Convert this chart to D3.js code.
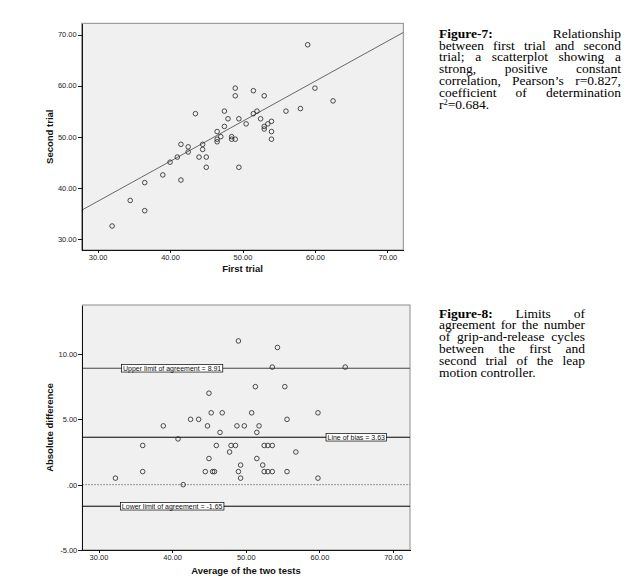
<!DOCTYPE html>
<html>
<head>
<meta charset="utf-8">
<script src="https://cdn.jsdelivr.net/npm/d3@7"></script>
<style>
  body { margin: 0; background: #fff; }
  svg { display: block; }
  .tick text { font-family: "Liberation Sans", Arial, sans-serif; font-size: 7.5px; fill: #222; }
  .axis path, .axis line { stroke: #000; stroke-width: 0.9; shape-rendering: crispEdges; }
  .title { font-family: "Liberation Sans", Arial, sans-serif; font-size: 9.5px; font-weight: bold; fill: #111; }
  .cap { font-family: "Liberation Serif", "Times New Roman", serif; font-size: 13.5px; fill: #000; }
</style>
</head>
<body>
<script>
// Figure 7 data (scatter): first vs second trial
var firstTrial  = [32, 34.5, 36.5, 36.5, 39, 40, 41, 41.5, 41.5, 42.5, 42.5, 43.5, 44, 44.5, 44.5, 45, 45,
                   46.5, 46.5, 46.5, 47, 47.5, 47.5, 48, 48.5, 48.5, 49, 49, 49, 49.5, 49.5, 50.5, 51.5, 51.5,
                   52, 52.5, 53, 53, 53, 53.5, 54, 54, 54, 56, 58, 59, 60, 62.5];
var secondTrial = [32.5, 37.5, 35.5, 41, 42.5, 45, 46, 41.5, 48.5, 48, 47, 54.5, 46, 48.5, 47.5, 46, 44,
                   51, 49.5, 49, 50, 55, 52, 53.5, 50, 49.5, 49.5, 59.5, 58, 53.5, 44, 52.5, 59, 54.5,
                   55, 53.5, 58, 52, 51.5, 52.5, 53, 51, 49.5, 55, 55.5, 68, 59.5, 57];
var fitIntercept = 13.8, fitSlope = 0.784;
var scatterTicks = [30, 40, 50, 60, 70];

// Figure 8 data (Bland-Altman)
var avgTests = [32.3, 36, 36, 38.8, 40.8, 41.5, 42.5, 43.6, 44.5, 44.8, 45, 45, 45.3, 45.5, 45.75, 46, 46.5,
                46.8, 47.8, 48, 48.6, 48.8, 49, 49, 49.3, 49.3, 49.8, 50.8, 51.3, 51.5, 51.5, 51.8, 52.3,
                52.5, 52.5, 53, 53.6, 53, 53.6, 53.6, 54.3, 55.3, 55.6, 55.6, 56.8, 59.8, 59.8, 63.5];
var absDiff  = [0.5, 3, 1, 4.5, 3.5, 0, 5, 5, 1, 4.5, 7, 2, 5.5, 1, 1, 3, 4,
                5.5, 2.5, 3, 3, 4.5, 1, 11, 1.5, 0.5, 4.5, 5.5, 7.5, 4, 2, 4.5, 1.5,
                3, 1, 3, 3, 1, 1, 9, 10.5, 7.5, 5, 1, 2.5, 5.5, 0.5, 9];
var refValues = [8.91, 3.63, -1.65];
var refNames  = ["Upper limit of agreement = 8.91", "Line of bias = 3.63", "Lower limit of agreement = -1.65"];
var refLabelX = [40, 65, 40];
var baXTicks = [30, 40, 50, 60, 70];
var baYTicks = [-5, 0, 5, 10];
var baYTickLabels = ["-5.00", ".00", "5.00", "10.00"];

var caption7 = ["Figure-7: Relationship", "between first trial and second", "trial; a scatterplot showing a",
                "strong, positive constant", "correlation, Pearson\u2019s r=0.827,", "coefficient of determination"];
var caption8 = ["Figure-8: Limits of", "agreement for the number", "of grip-and-release cycles",
                "between the first and", "second trial of the leap", "motion controller."];

var svg = d3.select("body").append("svg").attr("width", 633).attr("height", 588);

function frame(x0, x1, y0, y1) {
    svg.append("rect").attr("x", x0).attr("y", y0).attr("width", x1 - x0).attr("height", y1 - y0)
        .attr("fill", "#f0f0f0").attr("stroke", "#808080").attr("stroke-width", 0.9);
}

function axes(x, y, x0, y1, xVals, yVals, yFmt) {
    svg.append("g").attr("class", "axis").attr("transform", "translate(" + x0 + ",0)")
        .call(d3.axisLeft(y).tickValues(yVals).tickSize(4).tickSizeOuter(0).tickPadding(1).tickFormat(yFmt));
    svg.append("g").attr("class", "axis").attr("transform", "translate(0," + y1 + ")")
        .call(d3.axisBottom(x).tickValues(xVals).tickSize(3).tickSizeOuter(0).tickPadding(2).tickFormat(d3.format(".2f")));
}

function circles(x, y, xs, ys) {
    svg.append("g").selectAll("circle").data(xs).enter().append("circle")
        .attr("cx", function(d) { return x(d); })
        .attr("cy", function(d, i) { return y(ys[i]); })
        .attr("r", 2.3)
        .attr("fill", "none").attr("stroke", "#222").attr("stroke-width", 0.8);
}

// ---- Figure 7 ----
var x7 = d3.scaleLinear().domain([27.8, 72.2]).range([81.7, 403.3]);
var y7 = d3.scaleLinear().domain([27.8, 72.2]).range([250, 23.3]);
frame(81.7, 403.3, 23.3, 250);
svg.append("line")
    .attr("x1", x7(27.8)).attr("y1", y7(fitIntercept + fitSlope * 27.8))
    .attr("x2", x7(72.2)).attr("y2", y7(fitIntercept + fitSlope * 72.2))
    .attr("stroke", "#444").attr("stroke-width", 0.8);
circles(x7, y7, firstTrial, secondTrial);
axes(x7, y7, 81.7, 250, scatterTicks, scatterTicks, d3.format(".2f"));
svg.append("text").attr("class", "title").attr("x", 242.5).attr("y", 271.5).attr("text-anchor", "middle").text("First trial");
svg.append("text").attr("class", "title").attr("transform", "translate(52.5,136.7) rotate(-90)")
    .attr("text-anchor", "middle").text("Second trial");

// ---- Figure 8 ----
var x8 = d3.scaleLinear().domain([27.8, 72.3]).range([82.3, 410]);
var y8 = d3.scaleLinear().domain([-5, 13.75]).range([550, 305]);
frame(82.3, 410, 305, 550);
svg.append("line").attr("x1", 82.3).attr("x2", 410).attr("y1", y8(0)).attr("y2", y8(0))
    .attr("stroke", "#777").attr("stroke-width", 1).attr("stroke-dasharray", "1.5,1.5");
refValues.forEach(function(v, i) {
    svg.append("line").attr("x1", 82.3).attr("x2", 410).attr("y1", y8(v)).attr("y2", y8(v))
        .attr("stroke", i == 0 ? "#444" : "#000").attr("stroke-width", 1);
});
circles(x8, y8, avgTests, absDiff);
refValues.forEach(function(v, i) {
    var t = svg.append("text").attr("x", x8(refLabelX[i])).attr("y", y8(v) + 2.5)
        .attr("text-anchor", "middle").attr("font-family", "Liberation Sans, Arial, sans-serif")
        .attr("font-size", "7px").attr("fill", "#111").text(refNames[i]);
    var w = t.node().getComputedTextLength();
    svg.insert("rect", function() { return t.node(); })
        .attr("x", x8(refLabelX[i]) - w / 2 - 1.5).attr("y", y8(v) - 3.8)
        .attr("width", w + 3).attr("height", 7.6)
        .attr("fill", "#fff").attr("stroke", "#000").attr("stroke-width", 0.7);
});
axes(x8, y8, 82.3, 550, baXTicks, baYTicks, function(d, i) { return baYTickLabels[i]; });
svg.append("text").attr("class", "title").attr("x", 246).attr("y", 574).attr("text-anchor", "middle").text("Average of the two tests");
svg.append("text").attr("class", "title").attr("transform", "translate(52.5,427.5) rotate(-90)")
    .attr("text-anchor", "middle").text("Absolute difference");

// ---- captions (justified lines, slightly squashed vertically) ----
var sy = 0.88;
function caption(lines, left, width, base, lh) {
    var g = svg.append("g").attr("transform", "translate(" + left + "," + base + ") scale(1," + sy + ")");
    lines.forEach(function(line, li) {
        var words = line.split(" ");
        if (li == 0) words = [words[0]].concat(words.slice(1));
        var nodes = words.map(function(w, wi) {
            return g.append("text").attr("class", "cap").attr("y", li * lh / sy)
                .attr("font-weight", li == 0 && wi == 0 ? "bold" : null).text(w);
        });
        var lens = nodes.map(function(n) { return n.node().getComputedTextLength(); });
        var gap = (width - d3.sum(lens)) / (words.length - 1);
        var last = (li == lines.length - 1 && lines.length == 6 && line == "motion controller.");
        if (last) gap = 3.4;
        var pos = 0;
        nodes.forEach(function(n, k) { n.attr("x", pos); pos += lens[k] + gap; });
    });
    return g;
}
var g7 = caption(caption7, 439, 182, 37.7, 11.9);
var lastLine = g7.append("text").attr("class", "cap").attr("x", 0).attr("y", 6 * 11.9 / sy);
lastLine.append("tspan").text("r");
lastLine.append("tspan").attr("font-size", "8.5px").attr("dy", -5).text("2");
lastLine.append("tspan").attr("dy", 5).text("=0.684.");
caption(caption8, 439, 146, 317.7, 11.8);
</script>
</body>
</html>
